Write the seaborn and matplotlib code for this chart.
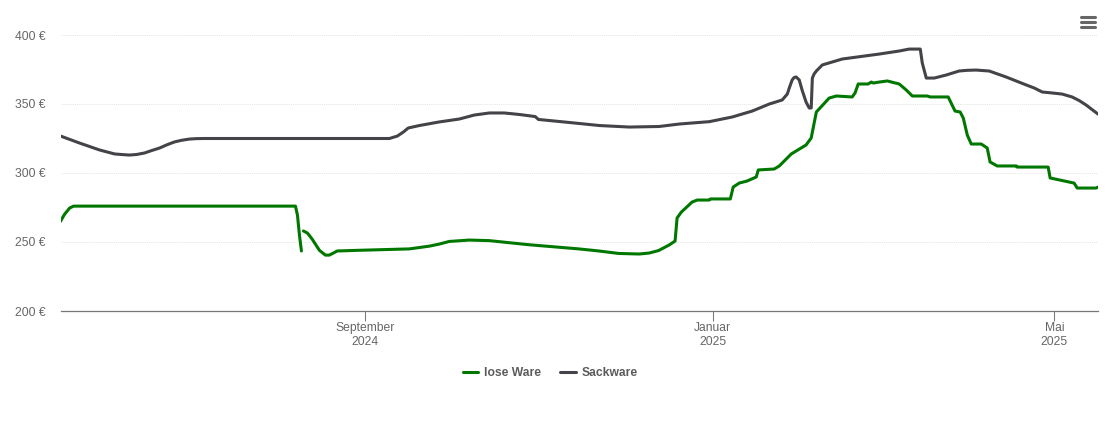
"""
plot.py
Price history for loose and bagged goods, May 2024 to May 2025.
"""
import pandas as pd
import matplotlib
matplotlib.use("Agg")
import matplotlib.pyplot as plt
from matplotlib.lines import Line2D
import seaborn as sns

START_DATE = "2024-05-17"
END_DAY = 364.3

lose_days_a = [0, 1.4, 3.2, 4.6, 82.5, 83.2, 83.9, 84.6]
lose_values_a = [265, 270, 274.6, 276, 276, 269.5, 255, 243.5]

lose_days_b = [85.3, 86.7, 88.4, 90.9, 93, 94.4, 97.2, 105, 122.5, 129.5, 133, 136.5, 143.5,
               150.5, 164.6, 182, 189, 196, 203.2, 206.7, 210, 213.7, 215.8, 216.5, 218, 221.8, 223.6,
               227.8, 228.2, 235.2, 236.2, 238.3, 241.1, 244.3, 245, 250.6, 252.4, 256.6,
               261.8, 263.6, 265.4, 269.9, 272.4, 278, 279, 280.1, 283.6, 284.7, 285.4,
               287.5, 290.3, 294.5, 297, 299.1, 304.3, 305.4, 311.7, 314.1, 315.9, 317,
               318.4, 319.8, 323.3, 325.4, 326.4, 328.9, 335.6, 335.9, 346.8, 347.5, 355.9,
               357, 363.6, 364.3]
lose_values_b = [258, 256.5, 252, 244, 240.5, 240.5, 243.5, 244, 245, 247, 248.5, 250.4, 251.4,
                 251, 248, 245, 243.5, 241.7, 241.3, 242, 243.8, 247.8, 250.7, 267.4, 271.7, 279, 280.4,
                 280.4, 281.2, 281.2, 289.8, 292.7, 294.2, 297.1, 302.2, 302.9, 305.1, 313.8,
                 320.3, 325.4, 344.2, 354.3, 355.8, 355.1, 358, 364.5, 364.5, 365.9, 365.2,
                 365.9, 366.7, 364.5, 360.1, 355.8, 355.8, 355.1, 355.1, 344.9, 344.2, 339.8,
                 327.5, 321, 321, 318.1, 308, 305.1, 305.1, 304.3, 304.3, 296.4, 292.7,
                 289.1, 289.1, 289.8]

sack_days = [0, 6.7, 13.7, 19, 21.4, 24.2, 26.7, 29.5, 31.9, 34.8, 37.2, 40, 42.5, 45.3, 47.7,
             50.5, 115.5, 118.3, 120.4, 122.1,
             126, 133, 140, 145.3, 150.6, 155.8, 161.1, 166.7, 167.8, 178.7, 189.2, 199.7,
             210.2, 217.3, 227.8, 235.9, 242.9, 248.9, 253.4, 255.2, 255.9, 256.9, 257.6, 258.3,
             259.4, 260.4, 261.8, 262.9, 263.6, 264, 264.6, 265.4, 267.5, 274.5, 287.5, 294.5,
             298, 301.9, 302.6, 304, 306.8, 311, 315.5, 318.3, 321.5, 326.1, 332, 339.1, 341.9,
             344.7, 348.2, 351.7, 355.2, 357.7, 360.1, 362.2, 364.3]
sack_values = [326.8, 321.7, 316.7, 313.8, 313.4, 313, 313.4, 314.5, 316.2, 318.1, 320.3, 322.5,
               323.7, 324.6, 324.9, 325, 325, 326.8, 329.7, 332.6,
               334.4, 337, 339.1, 342, 343.5, 343.5, 342.4, 340.9, 338.8, 336.6, 334.4, 333.3,
               333.7, 335.5, 337.2, 340.6, 344.9, 350, 352.9, 357.2, 361.6, 367.4, 369.2, 369.6,
               367.4, 360.1, 351.4, 347.1, 347.1, 368.8, 371.7, 373.9, 378.3, 382.6, 386.2, 388.4,
               389.8, 389.8, 379.7, 368.8, 368.8, 371, 373.9, 374.4, 374.6, 373.9, 369.6, 363.8, 361.6,
               358.7, 358, 357.2, 355.1, 352.5, 349.3, 346, 342.7]

y_ticks = [200, 250, 300, 350, 400]
x_tick_dates = ["2024-09-01", "2025-01-01", "2025-05-01"]
x_tick_labels = ["September\n2024", "Januar\n2025", "Mai\n2025"]
series_names = ["lose Ware", "Sackware"]
series_colors = ["#007800", "#434348"]


def build_frame():
    parts = [
        pd.DataFrame({"day": lose_days_a, "price": lose_values_a, "sorte": "lose Ware", "teil": 0}),
        pd.DataFrame({"day": lose_days_b, "price": lose_values_b, "sorte": "lose Ware", "teil": 1}),
        pd.DataFrame({"day": sack_days, "price": sack_values, "sorte": "Sackware", "teil": 2}),
    ]
    df = pd.concat(parts, ignore_index=True)
    df["datum"] = pd.Timestamp(START_DATE) + pd.to_timedelta(df["day"], unit="D")
    return df


sns.set_theme(style="white")
plt.rcParams["font.family"] = ["Liberation Sans", "DejaVu Sans"]

W, H = 1110, 422
fig = plt.figure(figsize=(W / 100, H / 100), dpi=100)
ax = fig.add_axes([60.5 / W, 1 - 311 / H, 1037.5 / W, 276 / H])

sns.lineplot(data=build_frame(), x="datum", y="price", hue="sorte", units="teil",
             estimator=None, sort=False, palette=dict(zip(series_names, series_colors)),
             linewidth=2.2, legend=False, ax=ax,
             solid_capstyle="round", solid_joinstyle="round")

start = pd.Timestamp(START_DATE)
ax.set_xlim(start, start + pd.Timedelta(days=END_DAY))
ax.set_ylim(200, 400)
ax.set_xlabel("")
ax.set_ylabel("")

ax.set_yticks(y_ticks)
ax.set_yticklabels([f"{v} €" for v in y_ticks], fontsize=8.7, color="#666666")
ax.tick_params(axis="y", length=0, pad=10.5)
ax.grid(axis="y", color="#e6e6e6", linestyle=(0, (1, 1)), linewidth=0.7)
ax.set_axisbelow(True)

ax.set_xticks(pd.to_datetime(x_tick_dates))
ax.set_xticklabels(x_tick_labels, fontsize=8.7, color="#666666", linespacing=1.18)
ax.tick_params(axis="x", length=7.2, width=0.75, color="#777777", pad=1, bottom=True)

for side in ["top", "right", "left"]:
    ax.spines[side].set_visible(False)
ax.spines["bottom"].set_color("#777777")
ax.spines["bottom"].set_linewidth(0.9)

handles = [Line2D([], [], color=c, linewidth=2.2, solid_capstyle="round") for c in series_colors]
leg = fig.legend(handles, series_names, loc="center", bbox_to_anchor=(550 / W, 1 - 373 / H),
                 ncol=2, frameon=False, handlelength=1.3, handletextpad=0.45,
                 columnspacing=1.6, prop={"weight": "bold", "size": 8.7})
for t in leg.get_texts():
    t.set_color("#5c5c5c")

# menu icon, top right
for py in [16.5, 21.5, 26.5]:
    fig.add_artist(Line2D([1081 / W, 1095 / W], [1 - py / H, 1 - py / H], color="#666666",
                          linewidth=2.2, solid_capstyle="round"))

fig.savefig("out.png", dpi=100)
